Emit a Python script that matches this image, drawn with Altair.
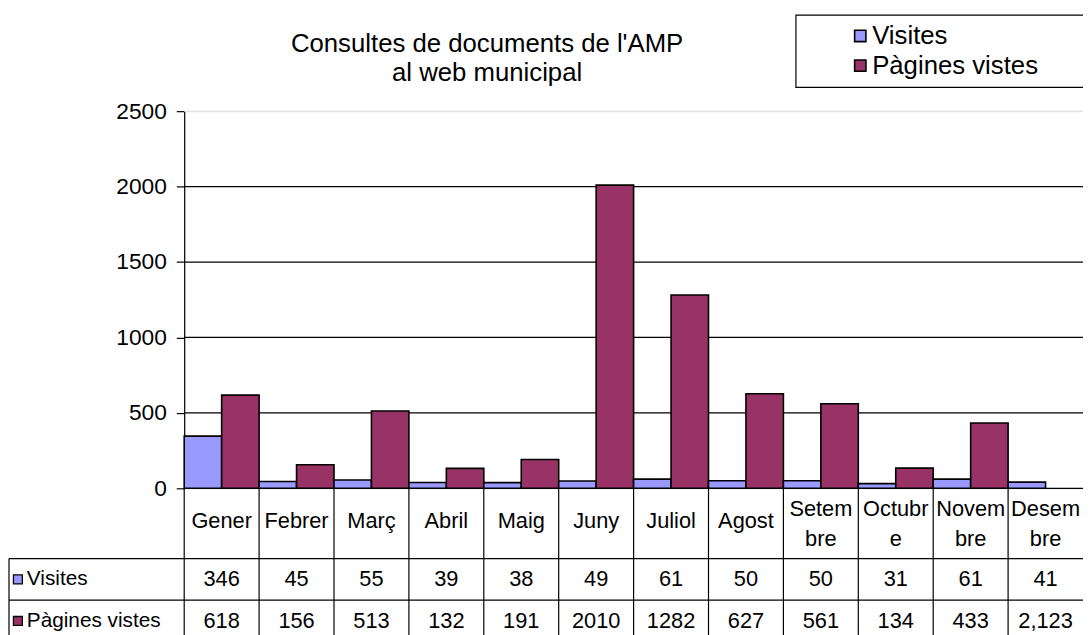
import altair as alt
import pandas as pd

FONT = "Liberation Sans"

months = ["Gener", "Febrer", "Març", "Abril", "Maig", "Juny", "Juliol", "Agost",
          "Setembre", "Octubre", "Novembre", "Desembre"]
month_headers = ["Gener", "Febrer", "Març", "Abril", "Maig", "Juny", "Juliol", "Agost",
                 "Setem\nbre", "Octubr\ne", "Novem\nbre", "Desem\nbre"]
visites = [346, 45, 55, 39, 38, 49, 61, 50, 50, 31, 61, 41]
# Desembre page views were stored as text ("2,123"), so no bar was drawn
pagines = [618, 156, 513, 132, 191, 2010, 1282, 627, 561, 134, 433, None]
visites_table = ["346", "45", "55", "39", "38", "49", "61", "50", "50", "31", "61", "41"]
pagines_table = ["618", "156", "513", "132", "191", "2010", "1282", "627", "561", "134", "433", "2,123"]
series = ["Visites", "Pàgines vistes"]
colors = ["#9999FF", "#993366"]
y_ticks = [0, 500, 1000, 1500, 2000, 2500]
title_lines = ["Consultes de documents de l'AMP", "al web municipal"]

W, H = 908, 381

rows = []
for m, v, p in zip(months, visites, pagines):
    rows.append({"month": m, "series": series[0], "value": v})
    if p is not None:
        rows.append({"month": m, "series": series[1], "value": p})
bars_df = pd.DataFrame(rows)

# header lines: one- or two-line month labels
hdr_rows = []
for m, h in zip(months, month_headers):
    parts = h.split("\n")
    if len(parts) == 1:
        hdr_rows.append({"month": m, "txt": parts[0], "hy": 414})
    else:
        hdr_rows.append({"month": m, "txt": parts[0], "hy": 402})
        hdr_rows.append({"month": m, "txt": parts[1], "hy": 432})
hdr_df = pd.DataFrame(hdr_rows)

table_df = pd.DataFrame({
    "month": months,
    "vis": visites_table,
    "pag": pagines_table,
})

xscale = alt.Scale(domain=months, paddingInner=0, paddingOuter=0)

bars = alt.Chart(bars_df).mark_bar(stroke="black", strokeWidth=1.6).encode(
    x=alt.X("month:N", sort=months, scale=xscale, axis=None),
    xOffset=alt.XOffset("series:N", sort=series, scale=alt.Scale(domain=series, paddingInner=0, paddingOuter=0)),
    y=alt.Y("value:Q", scale=alt.Scale(domain=[0, 2500], nice=False),
            axis=alt.Axis(values=y_ticks, format="d", grid=False, domain=True, domainColor="black",
                          domainWidth=1.2, tickColor="black", tickSize=8, tickWidth=1.2,
                          labelFont=FONT, labelFontSize=23, labelColor="black",
                          labelPadding=10, title=None)),
    color=alt.Color("series:N", scale=alt.Scale(domain=series, range=colors), legend=None),
)

grid_df = pd.DataFrame({"v": y_ticks})
grid = alt.Chart(grid_df).mark_rule(strokeWidth=1.2).encode(
    y=alt.Y("v:Q"),
    color=alt.condition(alt.datum.v == 2500, alt.value("#e6e6e6"), alt.value("black")),
)

# data table: vertical separators
vlines = alt.Chart(table_df).mark_rule(color="black", strokeWidth=1.2).encode(
    x=alt.X("month:N", sort=months, bandPosition=0),
    y=alt.value(H),
    y2=alt.value(H + 160),
)

hl_df = pd.DataFrame({"row": ["top", "mid"], "yy": [452, 494]})
hlines = alt.Chart(hl_df).mark_rule(color="black", strokeWidth=1.2).encode(
    x=alt.value(-177), x2=alt.value(W), y=alt.Y("yy:Q", scale=None),
)
left_border = alt.Chart(hl_df.head(1)).mark_rule(color="black", strokeWidth=1.2).encode(
    x=alt.value(-177), y=alt.value(452), y2=alt.value(H + 160),
)

headers = alt.Chart(hdr_df).mark_text(font=FONT, fontSize=22, color="black", baseline="middle").encode(
    x=alt.X("month:N", sort=months, bandPosition=0.5),
    y=alt.Y("hy:Q", scale=None),
    text="txt:N",
)
vis_text = alt.Chart(table_df).mark_text(font=FONT, fontSize=22, color="black", baseline="middle").encode(
    x=alt.X("month:N", sort=months, bandPosition=0.5),
    y=alt.value(473),
    text="vis:N",
)
pag_text = alt.Chart(table_df).mark_text(font=FONT, fontSize=22, color="black", baseline="middle").encode(
    x=alt.X("month:N", sort=months, bandPosition=0.5),
    y=alt.value(515),
    text="pag:N",
)

rowlab_df = pd.DataFrame({"series": series, "yy": [473, 515]})
row_sw = alt.Chart(rowlab_df).mark_square(size=81, stroke="black", strokeWidth=1.3, opacity=1).encode(
    x=alt.value(-168), y=alt.Y("yy:Q", scale=None),
    fill=alt.Fill("series:N", scale=alt.Scale(domain=series, range=colors), legend=None),
)
row_lab = alt.Chart(rowlab_df).mark_text(font=FONT, fontSize=21, color="black",
                                          align="left", baseline="middle").encode(
    x=alt.value(-159), y=alt.Y("yy:Q", scale=None), text="series:N",
)

# legend box
leg_box_df = pd.DataFrame({"k": [0]})
leg_box = alt.Chart(leg_box_df).mark_rect(fill="white", stroke="black", strokeWidth=1.2).encode(
    x=alt.value(618), x2=alt.value(W + 20), y=alt.value(-97), y2=alt.value(-24),
)
leg_df = pd.DataFrame({"series": series, "yy": [-76, -46]})
leg_sw = alt.Chart(leg_df).mark_square(size=130, stroke="black", strokeWidth=1.6, opacity=1).encode(
    x=alt.value(683), y=alt.Y("yy:Q", scale=None),
    fill=alt.Fill("series:N", scale=alt.Scale(domain=series, range=colors), legend=None),
)
leg_lab = alt.Chart(leg_df).mark_text(font=FONT, fontSize=26, color="black",
                                       align="left", baseline="middle").encode(
    x=alt.value(695), y=alt.Y("yy:Q", scale=None), text="series:N",
)

title_df = pd.DataFrame({"t": ["\n".join(title_lines)]})
title = alt.Chart(title_df).mark_text(font=FONT, fontSize=26, color="black", lineBreak="\n",
                                       lineHeight=30, align="center", baseline="middle").encode(
    x=alt.value(306), y=alt.value(-68), text="t:N",
)

chart = alt.layer(
    grid, bars, vlines, hlines, left_border, headers, vis_text, pag_text,
    row_sw, row_lab, leg_box, leg_sw, leg_lab, title,
).resolve_scale(fill="shared").properties(
    width=W, height=H,
    autosize=alt.AutoSizeParams(type="none"),
    padding={"left": 178, "top": 101, "right": 0, "bottom": 150},
).configure_view(stroke=None).configure(background="white")

chart.save("out.html", embed_options={"renderer": "svg", "actions": False})
